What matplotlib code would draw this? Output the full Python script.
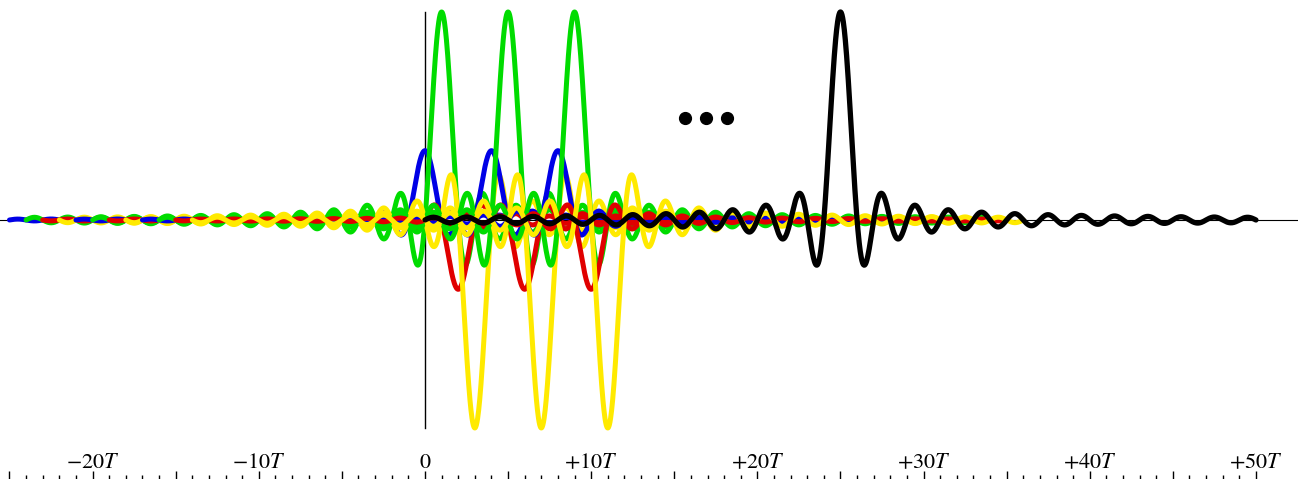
import numpy as np
import matplotlib
matplotlib.use("Agg")
import matplotlib.pyplot as plt

# one sinc pulse per sample: position (in units of T), level and channel colour
PULSE_T = [0, 1, 2, 3, 4, 5, 6, 7, 8, 9, 10, 11]
PULSE_LEVEL = [1, 3, -1, -3, 1, 3, -1, -3, 1, 3, -1, -3]
PULSE_COLOR = ["#0000e6", "#00dc00", "#e00000", "#ffea00"] * 3

# the lone far-away sample
BLACK_T = [25]
BLACK_LEVEL = [3]

# "..." marks
DOTS_T = [15.65, 16.9, 18.15]
DOTS_Y = [1.47, 1.47, 1.47]

MAJOR_TICKS = [-25, -20, -15, -10, -5, 0, 5, 10, 15, 20, 25, 30, 35, 40, 45, 50]
MAJOR_LABELS = ["", r"$-20T$", "", r"$-10T$", "", r"$0$", "", r"$+10T$", "",
                r"$+20T$", "", r"$+30T$", "", r"$+40T$", "", r"$+50T$"]

HALF_SPAN = 25  # each pulse is drawn over +-25T around its sample

plt.rcParams["mathtext.fontset"] = "stix"
plt.rcParams["font.family"] = "STIXGeneral"

LW = 3.6

fig = plt.figure(figsize=(12.98, 4.79), dpi=100)
ax = fig.add_axes([0, 0, 1, 1])
ax.set_xlim(-25.57, 52.53)
ax.set_ylim(-3.736, 3.173)

# thin axes lines
ax.axhline(0, color="black", lw=0.8, zorder=1)
ax.plot([0, 0], [-3, 3], color="black", lw=1.0, zorder=1)

# each pulse is its own curve, later pulses drawn on top
for i, (p, lv, c) in enumerate(zip(PULSE_T, PULSE_LEVEL, PULSE_COLOR)):
    t = np.linspace(p - HALF_SPAN, p + HALF_SPAN, 2500)
    ax.plot(t, lv * np.sinc(t - p), color=c, lw=LW,
            solid_capstyle="round", zorder=2 + i * 0.01)

for p, lv in zip(BLACK_T, BLACK_LEVEL):
    t = np.linspace(p - HALF_SPAN, p + HALF_SPAN, 2500)
    ax.plot(t, lv * np.sinc(t - p), color="black", lw=LW + 0.2,
            solid_capstyle="round", zorder=3)

ax.plot(DOTS_T, DOTS_Y, "o", color="black", ms=8.5, zorder=4)

# axis: ticks pointing up from the bottom edge, labels above them
for s in ax.spines.values():
    s.set_visible(False)
ax.set_xticks(MAJOR_TICKS, MAJOR_LABELS)
ax.set_xticks(np.arange(-25, 51, 1), minor=True)
ax.set_yticks([])
ax.tick_params(axis="x", which="major", direction="in", length=6, width=1,
               pad=-18.5, labelsize=16)
ax.tick_params(axis="x", which="minor", direction="in", length=2.6, width=1)

fig.savefig("out.png", dpi=100)
